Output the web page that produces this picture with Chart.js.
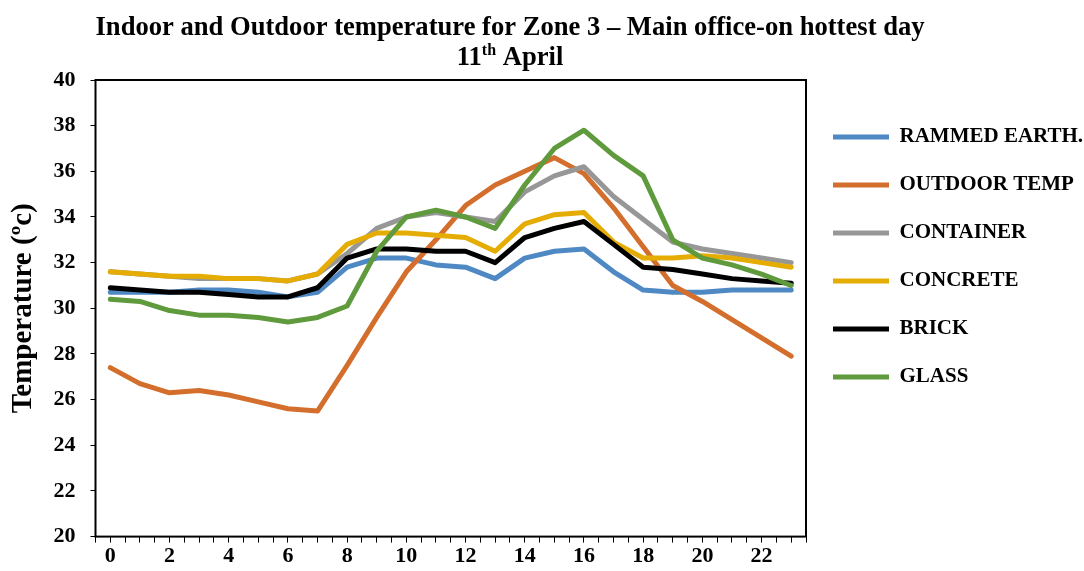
<!DOCTYPE html>
<html>
<head>
<meta charset="utf-8">
<script src="https://cdn.jsdelivr.net/npm/chart.js@4.4.1/dist/chart.umd.min.js"></script>
<style>
  html, body { margin: 0; padding: 0; background: #fff; }
  #wrap { width: 1084px; height: 571px; position: relative; }
</style>
</head>
<body>
<div id="wrap"><canvas id="chart"></canvas></div>
<script>
// hour of day, 0..23
const hours = [0, 1, 2, 3, 4, 5, 6, 7, 8, 9, 10, 11, 12, 13, 14, 15, 16, 17, 18, 19, 20, 21, 22, 23];

const rammedEarth = [30.7, 30.7, 30.7, 30.8, 30.8, 30.7, 30.5, 30.7, 31.8, 32.2, 32.2, 31.9, 31.8, 31.3, 32.2, 32.5, 32.6, 31.6, 30.8, 30.7, 30.7, 30.8, 30.8, 30.8];
const outdoorTemp = [27.4, 26.7, 26.3, 26.4, 26.2, 25.9, 25.6, 25.5, 27.5, 29.6, 31.6, 33.0, 34.5, 35.4, 36.0, 36.6, 35.9, 34.4, 32.7, 31.0, 30.3, 29.5, 28.7, 27.9];
const container = [31.6, 31.5, 31.4, 31.3, 31.3, 31.3, 31.2, 31.5, 32.4, 33.5, 34.0, 34.2, 34.0, 33.8, 35.1, 35.8, 36.2, 34.9, 33.9, 32.9, 32.6, 32.4, 32.2, 32.0];
const concrete = [31.6, 31.5, 31.4, 31.4, 31.3, 31.3, 31.2, 31.5, 32.8, 33.3, 33.3, 33.2, 33.1, 32.5, 33.7, 34.1, 34.2, 32.9, 32.2, 32.2, 32.3, 32.2, 32.0, 31.8];
const brick = [30.9, 30.8, 30.7, 30.7, 30.6, 30.5, 30.5, 30.9, 32.2, 32.6, 32.6, 32.5, 32.5, 32.0, 33.1, 33.5, 33.8, 32.8, 31.8, 31.7, 31.5, 31.3, 31.2, 31.1];
const glass = [30.4, 30.3, 29.9, 29.7, 29.7, 29.6, 29.4, 29.6, 30.1, 32.5, 34.0, 34.3, 34.0, 33.5, 35.4, 37.0, 37.8, 36.7, 35.8, 33.0, 32.2, 31.9, 31.5, 31.0];

const seriesNames = ['RAMMED EARTH.', 'OUTDOOR TEMP', 'CONTAINER', 'CONCRETE', 'BRICK', 'GLASS'];
const seriesValues = [rammedEarth, outdoorTemp, container, concrete, brick, glass];
const seriesColors = ['#4F89C3', '#D46E2C', '#979797', '#E5AC04', '#000000', '#5F9A3D'];

const titleMain = 'Indoor and Outdoor temperature for Zone 3 \u2013 Main office-on hottest day';
const titleDay = ['11', 'th', ' April'];
const yTitle = 'Temperature (\u00bac)';

const FONT = '"Liberation Serif", "Times New Roman", serif';

// excel puts later series on top, chart.js does the opposite -> flip order
const datasets = seriesNames.map((name, i) => ({
    label: name,
    data: hours.map((h, j) => ({ x: h, y: seriesValues[i][j] })),
    borderColor: seriesColors[i],
    backgroundColor: seriesColors[i],
    borderWidth: 5,
    borderCapStyle: 'round',
    borderJoinStyle: 'round',
    pointRadius: 0,
    pointHoverRadius: 0,
    tension: 0,
    fill: false,
    order: seriesNames.length - 1 - i,
}));

const plotBox = {
    id: 'plotBox',
    afterDatasetsDraw(chart) {
        const { ctx, chartArea: a } = chart;
        ctx.save();
        ctx.strokeStyle = '#000';
        ctx.lineWidth = 2;
        ctx.strokeRect(a.left, a.top, a.right - a.left, a.bottom - a.top);
        ctx.restore();
    },
};

// two-line title, second line has a superscript "th"
const headTitle = {
    id: 'headTitle',
    afterDraw(chart) {
        const ctx = chart.ctx;
        const cx = 510;
        const big = 'bold 26.6px ' + FONT;
        const small = 'bold 16px ' + FONT;
        ctx.save();
        ctx.fillStyle = '#000';
        ctx.textBaseline = 'middle';
        ctx.textAlign = 'center';
        ctx.font = big;
        ctx.fillText(titleMain, cx, 28);

        ctx.textAlign = 'left';
        const w1 = ctx.measureText(titleDay[0]).width;
        const w3 = ctx.measureText(titleDay[2]).width;
        ctx.font = small;
        const w2 = ctx.measureText(titleDay[1]).width;
        let x = cx - (w1 + w2 + w3) / 2;
        ctx.font = big;
        ctx.fillText(titleDay[0], x, 58);
        x += w1;
        ctx.font = small;
        ctx.fillText(titleDay[1], x, 51);
        x += w2;
        ctx.font = big;
        ctx.fillText(titleDay[2], x, 58);
        ctx.restore();
    },
};

const tickFont = { family: FONT, size: 22, weight: 'bold' };

new Chart(document.getElementById('chart'), {
    type: 'line',
    data: { datasets },
    plugins: [plotBox, headTitle],
    options: {
        responsive: true,
        maintainAspectRatio: false,
        animation: false,
        devicePixelRatio: 1,
        layout: { padding: 0 },
        scales: {
            x: {
                type: 'linear',
                min: -0.5,
                max: 23.5,
                border: { display: false },
                grid: { drawOnChartArea: false, drawTicks: true, tickLength: 6, color: '#000', lineWidth: 1 },
                ticks: {
                    stepSize: 0.5,
                    autoSkip: false,
                    maxRotation: 0,
                    padding: 1,
                    color: '#000',
                    font: tickFont,
                    callback: (v) => (Number.isInteger(v) && v % 2 === 0 ? String(v) : ''),
                },
            },
            y: {
                min: 20,
                max: 40,
                border: { display: false },
                grid: { drawOnChartArea: false, drawTicks: true, tickLength: 5, color: '#000', lineWidth: 1 },
                ticks: { stepSize: 2, padding: 15, color: '#000', font: tickFont },
                title: {
                    display: true,
                    text: yTitle,
                    color: '#000',
                    font: { family: FONT, size: 29, weight: 'bold', lineHeight: 1 },
                    padding: { top: 9.5, bottom: 0 },
                },
            },
        },
        plugins: {
            // only reserves the room, the text itself is drawn by headTitle
            title: { display: true, text: ' ', font: { size: 20 }, padding: { top: 0, bottom: 56 } },
            tooltip: { enabled: false },
            legend: {
                position: 'right',
                align: 'start',
                fullSize: false,
                maxWidth: 278,
                title: { display: true, text: ' ', font: { size: 10 }, padding: { top: 0, bottom: 7.5 } },
                labels: {
                    usePointStyle: true,
                    pointStyle: 'line',
                    pointStyleWidth: 56,
                    padding: 27,
                    color: '#000',
                    font: { family: FONT, size: 21, weight: 'bold' },
                    sort: (a, b) => a.datasetIndex - b.datasetIndex,
                },
            },
        },
    },
});
</script>
</body>
</html>
